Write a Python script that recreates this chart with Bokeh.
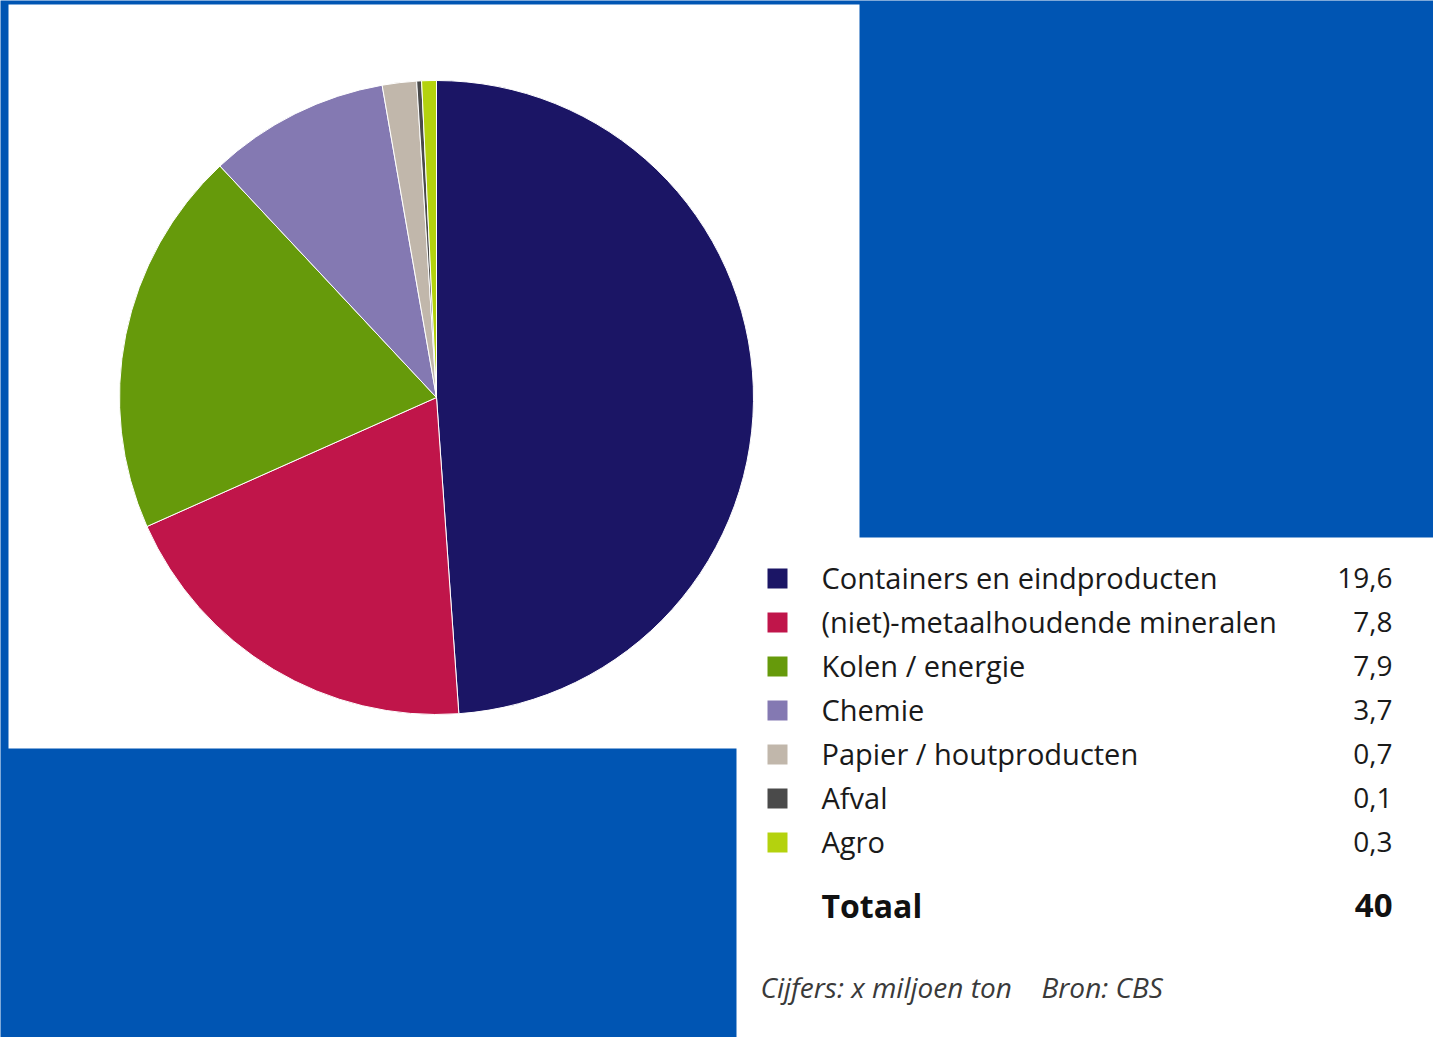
from math import pi
from bokeh.plotting import figure
from bokeh.models import Range1d, ColumnDataSource
from bokeh.core.properties import value
from bokeh.embed import file_html
from bokeh.resources import INLINE

# ---- data ----
categories = ["Containers en eindproducten", "(niet)-metaalhoudende mineralen",
              "Kolen / energie", "Chemie", "Papier / houtproducten", "Afval", "Agro"]
values = [19.6, 7.8, 7.9, 3.7, 0.7, 0.1, 0.3]
colors = ["#1b1565", "#c0154a", "#669a0b", "#8479b2", "#c1b7ab", "#4a4a4a", "#b4d20e"]
total_label = "Totaal"
total_value = "40"
footnote_left = "Cijfers: x miljoen ton"
footnote_right = "Bron: CBS"

value_labels = [f"{v:.1f}".replace(".", ",") for v in values]

# ---- figure in pixel-like coordinates ----
W, H = 1433, 1037
def Y(sy):
    return H - sy

p = figure(width=W, height=H, x_range=Range1d(0, W), y_range=Range1d(0, H),
           output_backend="svg", toolbar_location=None, min_border=0)
p.axis.visible = False
p.grid.visible = False
p.outline_line_color = None
BLUE = "#0055b3"
p.background_fill_color = BLUE
p.border_fill_color = BLUE

# white panels
p.quad(left=[8, 736], right=[859, 1433], top=[Y(4), Y(537)], bottom=[Y(748), Y(1037)],
       fill_color="white", line_color=None)

# pie
total = sum(values)
starts, ends = [], []
cum = 0.0
for v in values:
    starts.append(pi / 2 - 2 * pi * cum / total)
    cum += v
    ends.append(pi / 2 - 2 * pi * cum / total)
pie_src = ColumnDataSource(dict(start=starts, end=ends, color=colors))
p.wedge(x=436, y=Y(397), radius=317, start_angle="start", end_angle="end",
        direction="clock", fill_color="color", line_color="white", line_width=1,
        source=pie_src)

# legend
n = len(categories)
row_base = [Y(577 + 44 * i) for i in range(n)]
row_mid = [Y(578 + 44 * i) for i in range(n)]
leg_src = ColumnDataSource(dict(ym=row_mid, yb=row_base, cat=categories,
                                val=value_labels, color=colors))
p.rect(x=777, y="ym", width=20, height=20, fill_color="color", line_color=None,
       source=leg_src)
FONT = value("Open Sans")
p.text(x=821, y="yb", text="cat", text_font=FONT, text_font_size="29px",
       text_color="#1a1a1a", text_baseline="alphabetic", text_align="left", source=leg_src)
p.text(x=1392, y="yb", text="val", text_font=FONT, text_font_size="28px",
       text_color="#1a1a1a", text_baseline="alphabetic", text_align="right", source=leg_src)

# total
p.text(x=[821], y=[Y(905)], text=[total_label], text_font=FONT, text_font_size="32px",
       text_font_style="bold", text_color="#111111", text_baseline="alphabetic")
p.text(x=[1392], y=[Y(905)], text=[total_value], text_font=FONT, text_font_size="33px",
       text_font_style="bold", text_color="#111111", text_baseline="alphabetic",
       text_align="right")

# footnote
p.text(x=[760, 1041], y=[Y(986), Y(986)], text=[footnote_left, footnote_right],
       text_font=FONT, text_font_size="28px",
       text_font_style="italic", text_color="#3a3a3a", text_baseline="alphabetic")

open("out.html", "w").write(file_html(p, INLINE))
